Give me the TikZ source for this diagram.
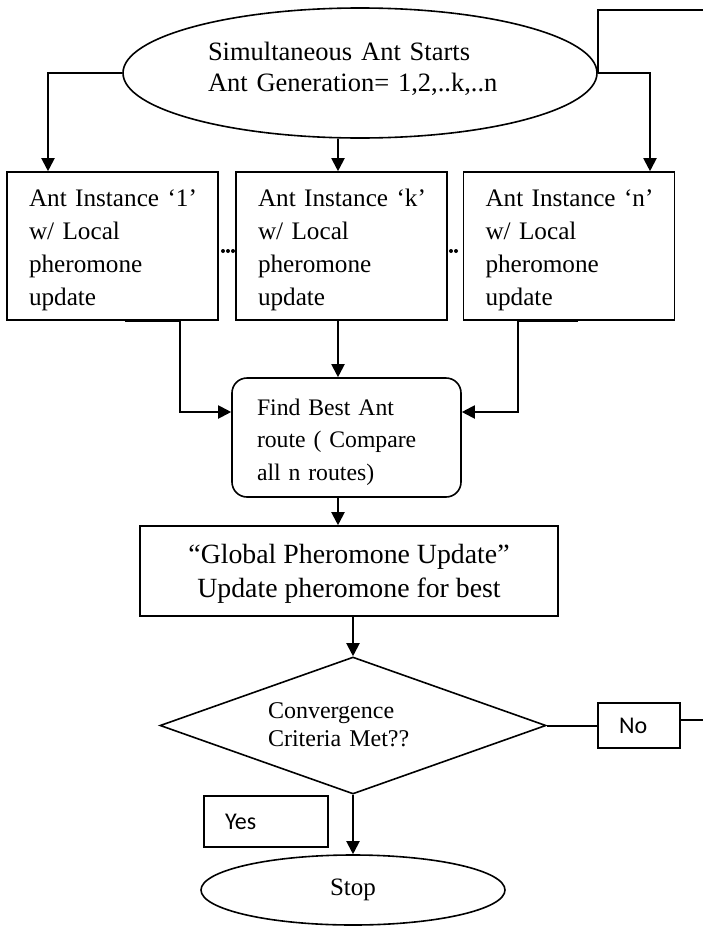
\documentclass[tikz,border=0pt]{standalone}
\usepackage{fontspec}
\setmainfont{Liberation Serif}
\newfontfamily\calibrifont{Carlito}
\usetikzlibrary{arrows.meta,shapes.geometric}

\tikzset{
  conn/.style={line width=2pt},
  arr/.style={conn,-{Triangle[length=13pt,width=13pt]}},
  outline/.style={draw,line width=1.6pt,inner sep=0pt},
  antbox/.style={outline,rectangle,minimum width=211pt,minimum height=148pt,
    inner xsep=4pt,text width=203pt,align=left,
    font=\fontsize{25.2pt}{33.3pt}\selectfont},
  tagbox/.style={outline,rectangle,align=left,font=\calibrifont\fontsize{24pt}{28pt}\selectfont},
}

\begin{document}
\begin{tikzpicture}[x=1pt,y=-1pt]
  \fill[white] (0,0) rectangle (702,926);
  \useasboundingbox (0,0) rectangle (702,926);

  % start of one generation
  \node[outline,ellipse,minimum width=474pt,minimum height=130pt,
        text width=304pt,align=left,font=\fontsize{26.5pt}{31pt}\selectfont]
    (top) at (360,73)
    {\rule{0pt}{20pt}Simultaneous Ant Starts\\Ant Generation= 1,2,..k,..n\rule[-15pt]{0pt}{0pt}};

  % the ant instances
  \node[antbox] (b1) at (112.5,246)
    {\leftskip=18pt\relax\rule{0pt}{25.9pt}Ant Instance ‘1’\\w/ Local\\pheromone\\update\rule[-6pt]{0pt}{0pt}\par};
  \node[antbox] (bk) at (341.5,246)
    {\leftskip=18pt\relax\rule{0pt}{25.9pt}Ant Instance ‘k’\\w/ Local\\pheromone\\update\rule[-6pt]{0pt}{0pt}\par};
  \node[antbox] (bn) at (569,246)
    {\leftskip=18pt\relax\rule{0pt}{25.9pt}Ant Instance ‘n’\\w/ Local\\pheromone\\update\rule[-6pt]{0pt}{0pt}\par};

  % ellipsis dots between the instances
  \foreach \dx in {223,228,233} \fill (\dx,251) circle (2pt);
  \foreach \dx in {451,456} \fill (\dx,251) circle (2pt);

  % comparison of the routes
  \node[outline,rectangle,rounded corners=15pt,minimum width=229pt,minimum height=119pt,
        inner xsep=4pt,text width=221pt,align=left,
        font=\fontsize{23.7pt}{32.5pt}\selectfont]
    (fb) at (346.5,437.5)
    {\leftskip=21pt\relax\rule{0pt}{26pt}Find Best Ant\\route ( Compare\\all n routes)\rule[-6pt]{0pt}{0pt}\par};

  % global update
  \node[outline,rectangle,minimum width=418pt,minimum height=90pt,align=center,
        font=\fontsize{27.8pt}{34pt}\selectfont]
    (gl) at (349,571)
    {\rule{0pt}{25pt}“Global Pheromone Update”\\Update pheromone for best\rule[-7pt]{0pt}{0pt}};

  % convergence test
  \node[outline,diamond,shape aspect=2.8,minimum width=386pt,minimum height=137pt,
        text width=170pt,align=left,font=\fontsize{24pt}{28pt}\selectfont]
    (dia) at (353,725.5)
    {\rule{0pt}{19pt}Convergence\\Criteria Met??\rule[-6pt]{0pt}{0pt}};

  \node[tagbox,minimum width=82pt,minimum height=45pt,inner xsep=21pt,text width=40pt]
    (no) at (639,725.5) {No};
  \node[tagbox,minimum width=124pt,minimum height=51pt,inner xsep=21pt,text width=82pt]
    (yes) at (266,821.5) {Yes};

  \node[outline,ellipse,minimum width=304pt,minimum height=70pt,
        font=\fontsize{25pt}{30pt}\selectfont]
    (stop) at (353,890) {Stop};

  % entry points of the connectors
  \coordinate (kin) at ([xshift=-3.5pt]bk.north);
  \coordinate (nin) at ([xshift=81pt]bn.north);
  \coordinate (fin1) at ([yshift=25.5pt]fb.west);
  \coordinate (fin2) at ([yshift=25.5pt]fb.east);
  \coordinate (fk) at ([xshift=-8.5pt]fb.north);
  \coordinate (gin) at ([xshift=-11pt]gl.north);
  \coordinate (ret) at (708,10);

  % fan-out to the ant instances
  \draw[arr] (top.west) -| ([xshift=-64.5pt]b1.north);
  \draw[arr] (top.south -| kin) -- (kin);
  \draw[arr] (top.east) -| (nin);

  % collecting the routes
  \draw[arr] ([xshift=12.5pt]b1.south) -- ([xshift=67.5pt]b1.south) |- (fin1);
  \draw[arr] (bk.south -| fk) -- (fk);
  \draw[arr] ([xshift=9pt]bn.south) -- ([xshift=-51pt]bn.south) |- (fin2);

  % main flow
  \draw[arr] (fb.south -| gin) -- (gin);
  \draw[arr] (gl.south -| dia.north) -- (dia.north);
  \draw[arr] (dia.south) -- (stop.north);

  % loop back for the next generation
  \draw[conn] (dia.east) -- (no.west);
  \draw[conn] ([yshift=5.5pt]no.east) -| (ret) -| (top.east);
\end{tikzpicture}
\end{document}
